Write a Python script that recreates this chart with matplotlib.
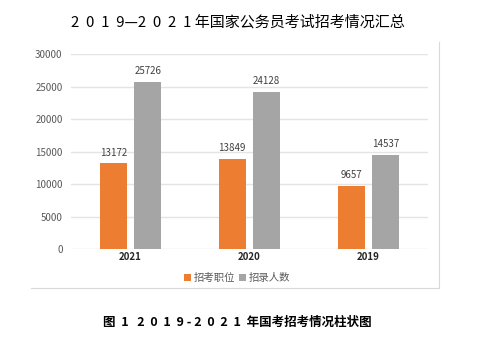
import numpy as np
import matplotlib
matplotlib.use('Agg')
import matplotlib.pyplot as plt
from matplotlib.lines import Line2D

plt.rcParams['font.family'] = ['Noto Sans CJK SC', 'DejaVu Sans']

# data
years = ['2021', '2020', '2019']
positions = [13172, 13849, 9657]   # 招考职位
recruits = [25726, 24128, 14537]   # 招录人数
yticks = [0, 5000, 10000, 15000, 20000, 25000, 30000]

orange = '#ED7D31'
gray = '#A5A5A5'

fig = plt.figure(figsize=(4.89, 3.41), dpi=100)
ax = fig.add_axes([0.1452, 0.2698, 0.730, 0.5718])

x = np.arange(len(years))
w = 0.227
off = 0.145
b1 = ax.bar(x - off, positions, width=w, color=orange, label='招考职位', zorder=3)
b2 = ax.bar(x + off, recruits, width=w, color=gray, label='招录人数', zorder=3)

for bars in (b1, b2):
    for r in bars:
        ax.text(r.get_x() + r.get_width() / 2, r.get_height() + 900,
                f'{int(r.get_height())}', ha='center', va='bottom',
                fontsize=7, color='#404040')

ax.set_xlim(-0.5, 2.5)
ax.set_ylim(0, 30000)
ax.set_yticks(yticks)
ax.set_yticklabels([str(v) for v in yticks], fontsize=7, color='#595959')
ax.set_xticks(x)
ax.set_xticklabels(years, fontsize=7, fontweight='bold', color='#262626')
ax.tick_params(axis='both', length=0)
ax.tick_params(axis='x', pad=2)
ax.tick_params(axis='y', pad=6)
ax.grid(axis='y', color='#E4E4E4', linewidth=1.0, zorder=0)
for s in ax.spines.values():
    s.set_visible(False)

ax.legend(loc='upper center', bbox_to_anchor=(0.465, -0.075), ncol=2, frameon=False,
          prop={'size': 7.5}, handlelength=0.7, handleheight=0.7, handletextpad=0.3,
          columnspacing=0.3, labelcolor='#595959')

# border of the embedded chart picture
fig.add_artist(Line2D([439 / 489, 439 / 489], [1 - 42 / 341, 1 - 288 / 341],
                      transform=fig.transFigure, color='#D9D9D9', linewidth=0.8))
fig.add_artist(Line2D([31 / 489, 439 / 489], [1 - 288 / 341, 1 - 288 / 341],
                      transform=fig.transFigure, color='#D9D9D9', linewidth=0.8))

fig.text(0.486, 1 - 22 / 341, '2  0  1  9—2  0  2  1 年国家公务员考试招考情况汇总',
         ha='center', va='center', fontsize=10.8, color='black')
fig.text(0.485, 1 - 322 / 341, '图  1   2  0  1  9 - 2  0  2  1  年国考招考情况柱状图',
         ha='center', va='center', fontsize=9, fontweight='bold', color='black')

plt.savefig('out.png', dpi=100)
